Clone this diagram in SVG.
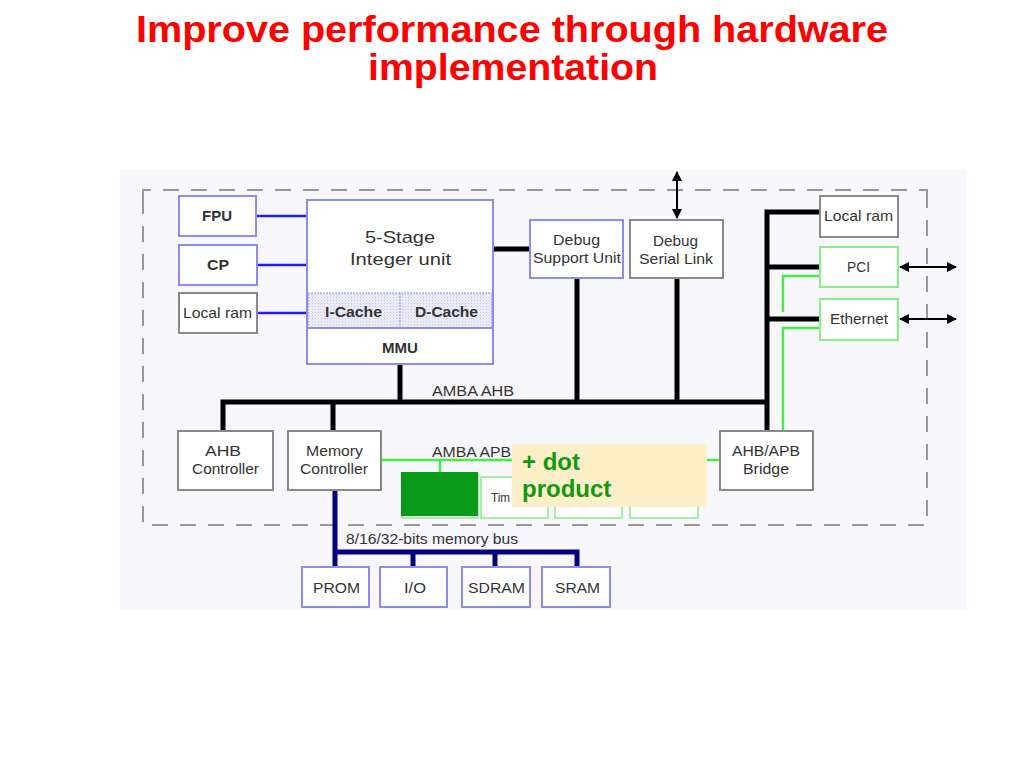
<svg xmlns="http://www.w3.org/2000/svg" width="1024" height="768" viewBox="0 0 1024 768">
<defs>
<style>
.t{font-family:"Liberation Sans",Arial,sans-serif;fill:#333;font-size:15px;text-anchor:middle}
.s{text-anchor:start}
.b{font-weight:bold}
.big{font-size:17px}
.bx{fill:#fff;stroke-width:2}
.bl{stroke:#8c8cf0}
.gr{stroke:#8a8a8a}
.gn{stroke:#88ee88}
.blk{stroke:#000;stroke-width:5;fill:none}
.nav{stroke:#000080;stroke-width:5;fill:none}
.bln{stroke:#2020ff;stroke-width:2.5;fill:none}
.grn{stroke:#44ee44;stroke-width:2.5;fill:none}
.arr{stroke:#000;stroke-width:2;fill:none;marker-start:url(#ah);marker-end:url(#ah)}
.ttl{font-family:"Liberation Sans",Arial,sans-serif;font-weight:bold;font-size:36px;fill:#ff0000;text-anchor:start}
.dp{font-family:"Liberation Sans",Arial,sans-serif;font-weight:bold;font-size:24px;fill:#119911}
</style>
<marker id="ah" viewBox="0 0 10 10" refX="9" refY="5" markerWidth="5" markerHeight="5" orient="auto-start-reverse">
<path d="M0,0 L10,5 L0,10 z" fill="#000"/>
</marker>
<pattern id="dots" width="3" height="3" patternUnits="userSpaceOnUse">
<rect width="3" height="3" fill="#eaeaf8"/>
<rect width="1" height="1" fill="#c8c8ec"/>
</pattern>
</defs>
<rect width="1024" height="768" fill="#fff"/>
<text class="ttl" x="136" y="42" textLength="752" lengthAdjust="spacingAndGlyphs">Improve performance through hardware</text>
<text class="ttl" x="368" y="80" textLength="290" lengthAdjust="spacingAndGlyphs">implementation</text>
<rect x="120" y="170" width="847" height="440" fill="#f7f7fc"/>
<path d="M143,198 V190 H927 V198 M143,198 V525 H927 V190" fill="none" stroke="#999" stroke-width="2" stroke-dasharray="16,12"/>
<g id="connectors">
<path class="bln" d="M256,216 H307 M257,265 H307 M257,313 H307"/>
<path class="blk" d="M493,249 H530 M400,364 V402 M577,278 V402 M677,278 V402 M223,431 V402 H767 M333,402 V431 M767,431 V212 H820 M767,267 H820 M767,319 H820"/>
<path class="grn" d="M820,276 H783 V312 M820,328 H783 V431 M381,460 H720 M440,460 V472"/>
<path class="nav" d="M335,490 V567 M335,552 H577 V567 M413,552 V567 M495,552 V567"/>
<path class="arr" d="M677,172 V218"/>
<path class="arr" d="M900,267 H956"/>
<path class="arr" d="M900,319 H956"/>
</g>
<g id="fpu"><rect class="bx bl" x="179" y="196" width="77" height="40"/><text class="t b s" x="202" y="221" textLength="30" lengthAdjust="spacingAndGlyphs">FPU</text></g>
<g id="cp"><rect class="bx bl" x="179" y="245" width="78" height="40"/><text class="t b s" x="207" y="270" textLength="22" lengthAdjust="spacingAndGlyphs">CP</text></g>
<g id="localram1"><rect class="bx gr" x="179" y="293" width="78" height="40"/><text class="t s" x="183" y="318" textLength="69" lengthAdjust="spacingAndGlyphs">Local ram</text></g>
<g id="integer-unit">
<rect class="bx bl" x="307" y="200" width="186" height="164"/>
<rect x="308" y="293" width="184" height="35" fill="url(#dots)" stroke="#8c8cf0" stroke-width="1" stroke-dasharray="2,1"/>
<line x1="400" y1="293" x2="400" y2="328" stroke="#8c8cf0" stroke-width="1" stroke-dasharray="2,1"/>
<line x1="307" y1="328" x2="493" y2="328" stroke="#8c8cf0" stroke-width="2"/>
<text class="t big s" x="365" y="243" textLength="70" lengthAdjust="spacingAndGlyphs">5-Stage</text>
<text class="t big s" x="350" y="265" textLength="101" lengthAdjust="spacingAndGlyphs">Integer unit</text>
<text class="t b s" x="325" y="317" textLength="57" lengthAdjust="spacingAndGlyphs">I-Cache</text>
<text class="t b s" x="415" y="317" textLength="63" lengthAdjust="spacingAndGlyphs">D-Cache</text>
<text class="t b s" x="382" y="353" textLength="36" lengthAdjust="spacingAndGlyphs">MMU</text>
</g>
<g id="dsu"><rect class="bx bl" x="530" y="220" width="93" height="58"/><text class="t s" x="553" y="245" textLength="47" lengthAdjust="spacingAndGlyphs">Debug</text><text class="t s" x="533" y="263" textLength="88" lengthAdjust="spacingAndGlyphs">Support Unit</text></g>
<g id="dsl"><rect class="bx gr" x="630" y="220" width="93" height="58"/><text class="t s" x="653" y="246" textLength="45" lengthAdjust="spacingAndGlyphs">Debug</text><text class="t s" x="639" y="264" textLength="74" lengthAdjust="spacingAndGlyphs">Serial Link</text></g>
<g id="localram2"><rect class="bx gr" x="820" y="196" width="78" height="41"/><text class="t s" x="824" y="221" textLength="69" lengthAdjust="spacingAndGlyphs">Local ram</text></g>
<g id="pci"><rect class="bx gn" x="820" y="247" width="78" height="40"/><text class="t s" x="847" y="272" textLength="23" lengthAdjust="spacingAndGlyphs">PCI</text></g>
<g id="ethernet"><rect class="bx gn" x="820" y="299" width="78" height="41"/><text class="t s" x="830" y="324" textLength="58" lengthAdjust="spacingAndGlyphs">Ethernet</text></g>
<text class="t s" x="432" y="396" textLength="82" lengthAdjust="spacingAndGlyphs">AMBA AHB</text>
<text class="t s" x="432" y="457" textLength="79" lengthAdjust="spacingAndGlyphs">AMBA APB</text>
<g id="ahbctrl"><rect class="bx gr" x="178" y="431" width="95" height="59"/><text class="t s" x="205" y="456" textLength="36" lengthAdjust="spacingAndGlyphs">AHB</text><text class="t s" x="192" y="474" textLength="67" lengthAdjust="spacingAndGlyphs">Controller</text></g>
<g id="memctrl"><rect class="bx gr" x="288" y="431" width="93" height="59"/><text class="t s" x="306" y="456" textLength="57" lengthAdjust="spacingAndGlyphs">Memory</text><text class="t s" x="300" y="474" textLength="68" lengthAdjust="spacingAndGlyphs">Controller</text></g>
<g id="bridge"><rect class="bx gr" x="720" y="431" width="93" height="59"/><text class="t s" x="732" y="456" textLength="68" lengthAdjust="spacingAndGlyphs">AHB/APB</text><text class="t s" x="743" y="474" textLength="46" lengthAdjust="spacingAndGlyphs">Bridge</text></g>
<g id="apb-units">
<rect x="402" y="474" width="76" height="44" fill="#fff" stroke="#88ee88" stroke-width="1.5"/>
<rect x="401" y="472" width="77" height="44" fill="#089a18"/>
<rect x="481" y="477" width="67" height="41" fill="#fff" stroke="#88ee88" stroke-width="1.5"/>
<text class="t s" x="491" y="502" style="font-size:13px" textLength="19" lengthAdjust="spacingAndGlyphs">Tim</text>
<rect x="555" y="477" width="67" height="41" fill="#fff" stroke="#88ee88" stroke-width="1.5"/>
<rect x="630" y="477" width="68" height="41" fill="#fff" stroke="#88ee88" stroke-width="1.5"/>
</g>
<g id="dotproduct">
<rect x="512" y="444" width="195" height="63" fill="#fdf0c8"/>
<text class="dp" x="522" y="470">+ dot</text>
<text class="dp" x="522" y="497">product</text>
</g>
<text class="t s" x="346" y="544" textLength="172" lengthAdjust="spacingAndGlyphs">8/16/32-bits memory bus</text>
<g id="prom"><rect class="bx bl" x="302" y="567" width="67" height="40"/><text class="t s" x="313" y="593" textLength="47" lengthAdjust="spacingAndGlyphs">PROM</text></g>
<g id="io"><rect class="bx bl" x="380" y="567" width="67" height="40"/><text class="t s" x="404" y="593" textLength="22" lengthAdjust="spacingAndGlyphs">I/O</text></g>
<g id="sdram"><rect class="bx bl" x="462" y="567" width="68" height="40"/><text class="t s" x="468" y="593" textLength="57" lengthAdjust="spacingAndGlyphs">SDRAM</text></g>
<g id="sram"><rect class="bx bl" x="542" y="567" width="68" height="40"/><text class="t s" x="555" y="593" textLength="45" lengthAdjust="spacingAndGlyphs">SRAM</text></g>
</svg>
